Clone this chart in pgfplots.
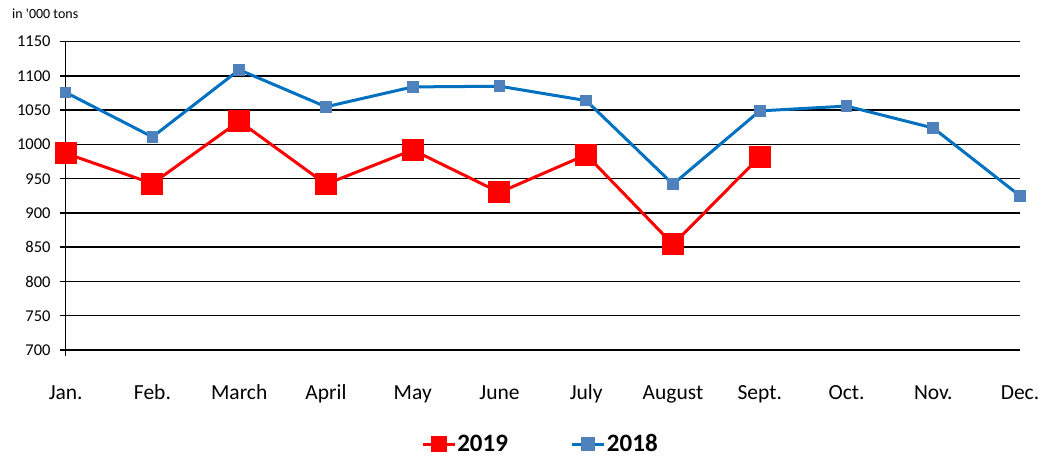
\documentclass[border=0pt]{standalone}
\usepackage{pgfplots}
\pgfplotsset{compat=1.18}
\usepackage{fontspec}
\setmainfont{Carlito}
\definecolor{redS}{HTML}{FF0000}
\definecolor{blueL}{HTML}{0070C0}
\definecolor{blueM}{HTML}{4F81BD}
\begin{document}
\begin{tikzpicture}
\begin{axis}[
  scale only axis,
  width=954.3pt, height=308.3pt,
  at={(0pt,0pt)}, anchor=south west,
  xmin=0, xmax=11, ymin=700, ymax=1150,
  ytick={700,750,...,1150},
  xtick={0,...,11},
  xticklabels={Jan.,Feb.,March,April,May,June,July,August,Sept.,Oct.,Nov.,Dec.},
  axis lines*=left,
  axis line style={line width=1.5pt, black},
  ymajorgrids,
  grid style={line width=1.5pt, black},
  tick align=outside,
  ytick style={line width=1.5pt, black},
  major tick length=6pt,
  xtick style={draw=none},
  /pgf/number format/assume math mode=true,
  /pgf/number format/1000 sep={},
  yticklabel style={font=\fontsize{16.5}{19}\selectfont, anchor=east, inner sep=0pt},
  yticklabel shift=9pt,
  xticklabel style={font=\fontsize{21.5}{25}\selectfont, anchor=base, inner sep=0pt},
  xticklabel shift=44pt,
  clip=false,
  legend columns=2,
  legend style={at={(0.497,-0.305)}, anchor=center, draw=none, fill=none,
    font=\bfseries\fontsize{25}{30}\selectfont,
    /tikz/every even column/.append style={column sep=62pt},
    nodes={inner sep=1pt}},
]
\addplot[color=redS, line width=3pt, mark=square*, mark size=10.5pt,
  mark options={solid, fill=redS, draw=redS, line width=0pt},
  legend image code/.code={
    \draw[redS, line width=3pt] (0pt,0pt) -- (32pt,0pt);
    \fill[redS] (9.5pt,-6.5pt) rectangle (22.5pt,6.5pt);}]
  coordinates {(0,987) (1,943) (2,1034) (3,942) (4,992) (5,930) (6,985) (7,854) (8,982)};
\addlegendentry{2019}
\addplot[color=blueL, line width=3pt, mark=square*, mark size=5.3pt,
  mark options={solid, fill=blueM, draw=blueM, line width=0pt},
  legend image code/.code={
    \draw[blueL, line width=3pt] (0pt,0pt) -- (32pt,0pt);
    \fill[blueM] (10.5pt,-5.5pt) rectangle (21.5pt,5.5pt);}]
  coordinates {(0,1076) (1,1011) (2,1109) (3,1055) (4,1084) (5,1085) (6,1064) (7,942) (8,1049) (9,1056) (10,1024) (11,925)};
\addlegendentry{2018}
\draw[line width=1.5pt, black] (axis cs:0,700) -- ++(0pt,-6pt);
\node[anchor=base west, inner sep=0pt, font=\fontsize{14}{17}\selectfont] at ([xshift=-53.7pt, yshift=22.7pt]rel axis cs:0,1) {in \textquotesingle 000 tons};
\end{axis}
\pgfresetboundingbox
\path[use as bounding box] (-65.7pt,-107pt) rectangle (975.3pt,350pt);
\end{tikzpicture}
\end{document}
